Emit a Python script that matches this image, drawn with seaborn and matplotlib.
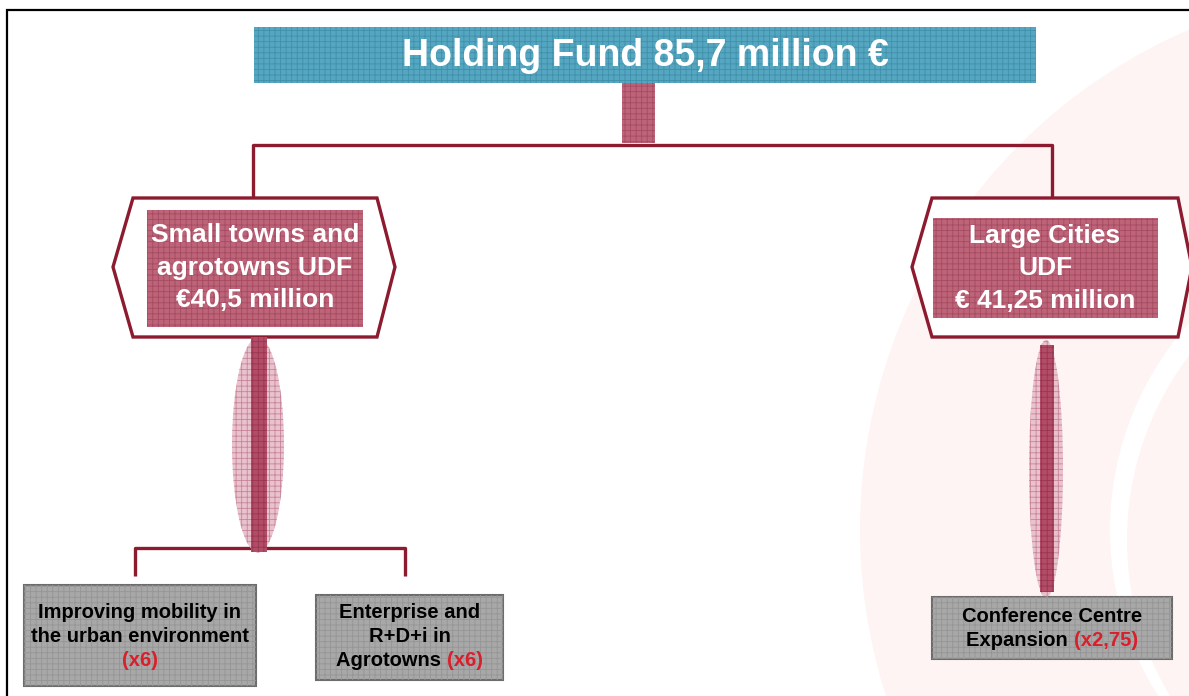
import numpy as np
import matplotlib
import matplotlib.pyplot as plt
import seaborn as sns
from matplotlib.patches import Rectangle, Ellipse, Polygon, Circle

# diagram content
fund_title = "Holding Fund 85,7 million €"
udf_lines = [["Small towns and", "agrotowns UDF", "€40,5 million"],
             ["Large Cities", "UDF", "€ 41,25 million"]]
project_lines = [["Improving mobility in", "the urban environment", ""],
                 ["Enterprise and", "R+D+i in", "Agrotowns "],
                 ["Conference Centre", "Expansion "]]
project_mult = ["(x6)", "(x6)", "(x2,75)"]

# colours
DARK_RED = "#8c1b2f"
CRIMSON, CRIMSON_H = "#bd6479", "#a54a62"
PINK, PINK_H = "#e8c2cc", "#c8849a"
STRIPE, STRIPE_H = "#b34d67", "#983550"
BLUE, BLUE_H = "#55a6c0", "#4190ab"
GREY, GREY_H, GREY_E = "#a8a8a8", "#959595", "#6c6c6c"
BG_PINK = "#fef4f4"
RED_TXT = "#d8202c"

sns.set_theme(style="white")
plt.rcParams['font.family'] = ['Liberation Sans', 'DejaVu Sans']
plt.rcParams['hatch.linewidth'] = 0.6

W, H = 1189, 696
fig = plt.figure(figsize=(W / 100, H / 100), dpi=100)
ax = fig.add_axes([0, 0, 1, 1])
ax.set_xlim(0, W)
ax.set_ylim(H, 0)
ax.axis('off')


def hbox(x0, y0, x1, y1, face, hatch_col, hatch='+++', edge=None, z=3):
    ax.add_patch(Rectangle((x0, y0), x1 - x0, y1 - y0, facecolor=face,
                           edgecolor=edge if edge else 'none',
                           linewidth=1.5 if edge else 0, zorder=z))
    ax.add_patch(Rectangle((x0, y0), x1 - x0, y1 - y0, fill=False, hatch=hatch,
                           edgecolor=hatch_col, linewidth=0, zorder=z + 0.1))


def rich_line(x, y, parts, size, weight='bold'):
    r = fig.canvas.get_renderer()
    texts = []
    for s, c in parts:
        if not s:
            continue
        t = ax.text(0, y, s, color=c, fontsize=size, fontweight=weight,
                    ha='left', va='center', zorder=6)
        texts.append(t)
    widths = [t.get_window_extent(r).width for t in texts]
    left = x - sum(widths) / 2
    for t, w in zip(texts, widths):
        t.set_x(left)
        left += w


# faint background rings
ax.add_patch(Circle((1405, 530), 545, color=BG_PINK, lw=0, zorder=0))
ax.add_patch(Circle((1420, 530), 310, color='white', lw=0, zorder=0.1))
ax.add_patch(Circle((1432, 540), 305, color=BG_PINK, lw=0, zorder=0.2))

# frame
ax.plot([7, 7, W], [H, 10, 10], color='black', lw=1.6, zorder=1,
        solid_joinstyle='miter')

# holding fund header
hbox(254, 27, 1036, 83, BLUE, BLUE_H)
ax.text(645, 56, fund_title, color='white', fontsize=27, fontweight='bold',
        ha='center', va='center', zorder=6)
hbox(622, 83, 655, 143, CRIMSON, CRIMSON_H)

# connectors
lc = dict(color=DARK_RED, lw=2.4, zorder=2, solid_capstyle='butt')
ax.plot([253, 253, 1052, 1052], [198, 145, 145, 198], **lc)
ax.plot([135, 135, 405, 405], [576, 548, 548, 576], **lc)

# UDF hexagons
hexes = [[(133, 198), (377, 198), (395, 267), (377, 337), (133, 337), (113, 267)],
         [(932, 198), (1178, 198), (1192, 267), (1178, 337), (932, 337), (912, 267)]]
inner = [(147, 210, 363, 327), (933, 218, 1158, 318)]
centres = [255, 1045]
line_y = [[235, 268, 300], [236, 268, 301]]
for k in range(2):
    ax.add_patch(Polygon(hexes[k], closed=True, facecolor='white',
                         edgecolor=DARK_RED, lw=2.4, zorder=2.5))
    hbox(*inner[k], CRIMSON, CRIMSON_H)
    for s, yy in zip(udf_lines[k], line_y[k]):
        ax.text(centres[k], yy, s, color='white', fontsize=19,
                fontweight='bold', ha='center', va='center', zorder=6)

# lens shaped links
lenses = [((258, 445), 52, 215, (251, 267, 337, 552)),
          ((1046, 469), 34, 258, (1040, 1054, 345, 592))]
for (c, w, h, (sx0, sx1, sy0, sy1)) in lenses:
    ax.add_patch(Ellipse(c, w, h, facecolor=PINK, lw=0, zorder=3))
    ax.add_patch(Ellipse(c, w, h, fill=False, hatch='+++', edgecolor=PINK_H,
                         lw=0, zorder=3.1))
    hbox(sx0, sy0, sx1, sy1, STRIPE, STRIPE_H, z=3.2)

# project boxes
boxes = [(24, 585, 256, 686), (316, 595, 503, 680), (932, 597, 1172, 659)]
box_y = [[612, 636, 660], [613, 637, 661], [617, 641]]
for k in range(3):
    hbox(*boxes[k], GREY, GREY_H, edge=GREY_E)
    cx = (boxes[k][0] + boxes[k][2]) / 2
    n = len(project_lines[k])
    for i, (s, yy) in enumerate(zip(project_lines[k], box_y[k])):
        parts = [(s, 'black')]
        if i == n - 1:
            parts.append((project_mult[k], RED_TXT))
        rich_line(cx, yy, parts, 14.5)

fig.savefig("out.png", dpi=100)
